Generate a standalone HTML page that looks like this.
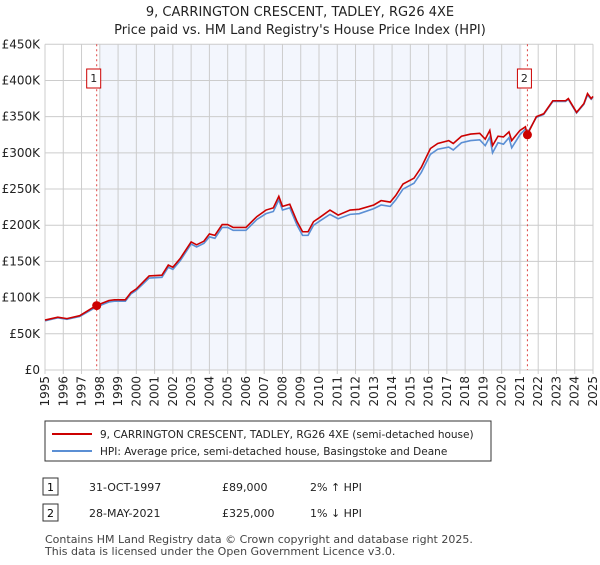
<!DOCTYPE html>
<html><head><meta charset="utf-8"><style>
body{margin:0;background:#fff;font-family:"Liberation Sans","DejaVu Sans",sans-serif;}
svg text{font-family:"DejaVu Sans","Liberation Sans",sans-serif;}
</style></head><body>
<svg id="c" width="600" height="560" viewBox="0 0 600 560" xmlns="http://www.w3.org/2000/svg">
<text x="300" y="16" text-anchor="middle" font-size="13" fill="#222">9, CARRINGTON CRESCENT, TADLEY, RG26 4XE</text>
<text x="300" y="34" text-anchor="middle" font-size="13" fill="#222">Price paid vs. HM Land Registry's House Price Index (HPI)</text>
<g id="grid"></g><g id="axes"></g><g id="series"></g><g id="marks"></g>
<rect x="45" y="421" width="446" height="40" fill="#fff" stroke="#333"/>
<line x1="52" y1="434" x2="92" y2="434" stroke="#cc0000" stroke-width="2"/>
<text x="100" y="438" font-size="10.5" fill="#222">9, CARRINGTON CRESCENT, TADLEY, RG26 4XE (semi-detached house)</text>
<line x1="52" y1="451" x2="92" y2="451" stroke="#5b8fd4" stroke-width="2"/>
<text x="100" y="455" font-size="10.5" fill="#222">HPI: Average price, semi-detached house, Basingstoke and Deane</text>
<g>
<rect x="43" y="478" width="15" height="17" fill="#fff" stroke="#333"/><text x="50.5" y="491" text-anchor="middle" font-size="11">1</text>
<text x="89" y="491" font-size="11" fill="#222">31-OCT-1997</text><text x="222" y="491" font-size="11" fill="#222">£89,000</text><text x="310" y="491" font-size="11" fill="#222">2% ↑ HPI</text></g>
<g>
<rect x="43" y="504" width="15" height="17" fill="#fff" stroke="#333"/><text x="50.5" y="517" text-anchor="middle" font-size="11">2</text>
<text x="89" y="517" font-size="11" fill="#222">28-MAY-2021</text><text x="222" y="517" font-size="11" fill="#222">£325,000</text><text x="310" y="517" font-size="11" fill="#222">1% ↓ HPI</text></g>
<text x="45" y="543" font-size="11" fill="#444">Contains HM Land Registry data © Crown copyright and database right 2025.</text>
<text x="45" y="555" font-size="11" fill="#444">This data is licensed under the Open Government Licence v3.0.</text>
</svg>
<script>
const yTicks=[0,50,100,150,200,250,300,350,400,450];
const xYears=[1995,1996,1997,1998,1999,2000,2001,2002,2003,2004,2005,2006,2007,2008,2009,2010,2011,2012,2013,2014,2015,2016,2017,2018,2019,2020,2021,2022,2023,2024,2025];
const years=[1995.0,1995.7,1996.2,1996.9,1997.8,1998.5,1998.8,1999.4,1999.7,2000.0,2000.7,2001.4,2001.75,2002.0,2002.4,2003.0,2003.3,2003.7,2004.0,2004.3,2004.7,2005.0,2005.3,2006.0,2006.6,2007.1,2007.5,2007.8,2008.0,2008.4,2008.8,2009.1,2009.4,2009.7,2010.05,2010.6,2011.05,2011.7,2012.2,2013.0,2013.4,2013.9,2014.2,2014.6,2015.2,2015.6,2016.1,2016.5,2017.1,2017.35,2017.8,2018.3,2018.8,2019.1,2019.35,2019.5,2019.8,2020.1,2020.4,2020.55,2021.0,2021.3,2021.4,2021.9,2022.3,2022.8,2023.5,2023.65,2024.1,2024.5,2024.7,2024.9,2025.0];
const priceK=[69,73,71,75,89,96,97,97,107,112,130,131,145,142,154,177,173,178,188,186,201,201,197,197,212,221,224,240,226,229,205,191,191,205,211,221,214,221,222,228,234,232,241,257,265,280,306,313,317,313,323,326,327,319,331,310,323,322,329,317,331,336,325,350,354,372,372,375,356,368,382,375,378];
const hpiK=[68,72,70,74,87,94,95,95,105,110,127,128,142,139,151,174,170,175,184,182,197,197,193,193,208,216,219,235,221,224,200,186,186,200,206,215,209,215,216,223,228,226,235,250,258,273,298,305,308,304,314,317,318,310,322,300,314,312,321,307,325,333,327,349,353,371,371,374,355,367,380,374,377];
const sales=[{y:1997.83,v:89,l:'1'},{y:2021.41,v:325,l:'2'}];
const NS='http://www.w3.org/2000/svg';
const X0=45,X1=593,Y0=370,Y1=44.3;
const xs=t=>X0+(t-1995)/30*(X1-X0);
const ys=v=>Y0-v/450*(Y0-Y1);
function mk(tag,attrs,parent){const e=document.createElementNS(NS,tag);for(const k in attrs)e.setAttribute(k,attrs[k]);parent.appendChild(e);return e;}
const grid=document.getElementById('grid'),axes=document.getElementById('axes'),ser=document.getElementById('series'),marks=document.getElementById('marks');
const bg=mk('rect',{x:xs(1998.0),y:Y1,width:xs(2021.1)-xs(1998.0),height:Y0-Y1,fill:'#eef2fc',opacity:0.7},grid);


yTicks.forEach(v=>{
 const l=mk('line',{x1:X0,x2:X1,y1:ys(v),y2:ys(v),stroke:'#cccccc'},grid);
 
 
 const t=mk('text',{x:X0-5,y:ys(v)+4,'text-anchor':'end','font-size':12,fill:'#222'},axes);
 t.textContent='£'+(v===0?'0':v+'K');
 
 
});
xYears.forEach(yr=>{
 const l=mk('line',{x1:xs(yr),x2:xs(yr),y1:Y1,y2:Y0+4,stroke:'#cccccc'},grid);
 
 
 const t=mk('text',{x:0,y:0,'text-anchor':'end','font-size':12,fill:'#222',transform:`translate(${xs(yr)+4},${Y0+6}) rotate(-90)`},axes);
 t.textContent=yr;
 
 
});
const hp=mk('polyline',{points:years.map((t,i)=>xs(t)+','+ys(hpiK[i])).join(' '),fill:'none',stroke:'#5b8fd4','stroke-width':1.6},ser);


const pp=mk('polyline',{points:years.map((t,i)=>xs(t)+','+ys(priceK[i])).join(' '),fill:'none',stroke:'#cc0000','stroke-width':1.6},ser);


sales.forEach(s=>{
 const l=mk('line',{x1:xs(s.y),x2:xs(s.y),y1:Y1,y2:Y0,stroke:'#dd4444','stroke-dasharray':'2,3','stroke-width':1},marks);
 
 
 const c=mk('circle',{cx:xs(s.y),cy:ys(s.v),r:4.5,fill:'#cc0000'},marks);
 
 
 const r=mk('rect',{x:xs(s.y)-10,y:69,width:14,height:19,fill:'#fff',stroke:'#cc0000'},marks);
 
 
 const t=mk('text',{x:xs(s.y)-3,y:82,'text-anchor':'middle','font-size':11,fill:'#222'},marks);
 t.textContent=s.l;
 
 
});
</script>
</body></html>
